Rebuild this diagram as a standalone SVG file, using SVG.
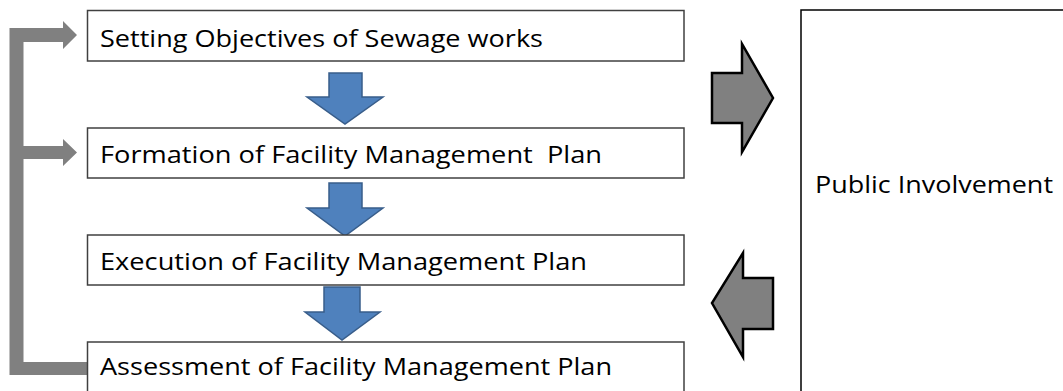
<svg xmlns="http://www.w3.org/2000/svg" width="1063" height="391" viewBox="0 0 1063 391">
<style>
.box{fill:#fff;stroke:#404040;stroke-width:1.5}
.pbox{fill:#fff;stroke:#000;stroke-width:1.5}
.t{font-family:"Open Sans","Noto Sans","Liberation Sans",sans-serif;font-size:23.5px;fill:#000;white-space:pre}
.blue{fill:#4F81BD;stroke:#385D8A;stroke-width:1.5;stroke-linejoin:miter}
.gray{fill:#808080;stroke:#000;stroke-width:2.5;stroke-linejoin:miter}
.loop{fill:#808080}
</style>
<rect width="1063" height="391" fill="#fff"/>
<g id="connectors">
<path class="loop" d="M9.5,28 H63 V21 L77,35 L63,49 V42 H23.5 V146 H63 V139 L77,152.5 L63,166 V159 H23.5 V362 H87 V375 H9.5 Z"/>
<path class="blue" d="M329,73 H362 V97 H383 L345,124 L307,97 H329 Z"/>
<path class="blue" d="M329,183 H362 V208 H383 L345,236 L307,208 H329 Z"/>
<path class="blue" d="M324,287 H360 V312 H380 L342,340 L305,312 H324 Z"/>
<path class="gray" d="M712,73 H742 V44 L773,98 L742,152 V123 H712 Z"/>
<path class="gray" d="M773,278 H743 V253 L712,303 L743,357 V329 H773 Z"/>
</g>
<g id="n1">
<rect class="box" x="87.5" y="10.5" width="596.5" height="50.5"/>
<text class="t" x="100" y="47" textLength="443" lengthAdjust="spacingAndGlyphs">Setting Objectives of Sewage works</text>
</g>
<g id="n2">
<rect class="box" x="87.5" y="128" width="596.5" height="50"/>
<text class="t" x="100" y="163" textLength="502" lengthAdjust="spacingAndGlyphs" xml:space="preserve">Formation of Facility Management  Plan</text>
</g>
<g id="n3">
<rect class="box" x="87.5" y="235" width="596.5" height="50"/>
<text class="t" x="100" y="270" textLength="487" lengthAdjust="spacingAndGlyphs">Execution of Facility Management Plan</text>
</g>
<g id="n4">
<rect class="box" x="87.5" y="342" width="596.5" height="52"/>
<text class="t" x="100" y="375" textLength="512" lengthAdjust="spacingAndGlyphs">Assessment of Facility Management Plan</text>
</g>
<g id="n5">
<rect class="pbox" x="801" y="10" width="300" height="400"/>
<text class="t" x="815" y="193" textLength="238" lengthAdjust="spacingAndGlyphs">Public Involvement</text>
</g>
</svg>
